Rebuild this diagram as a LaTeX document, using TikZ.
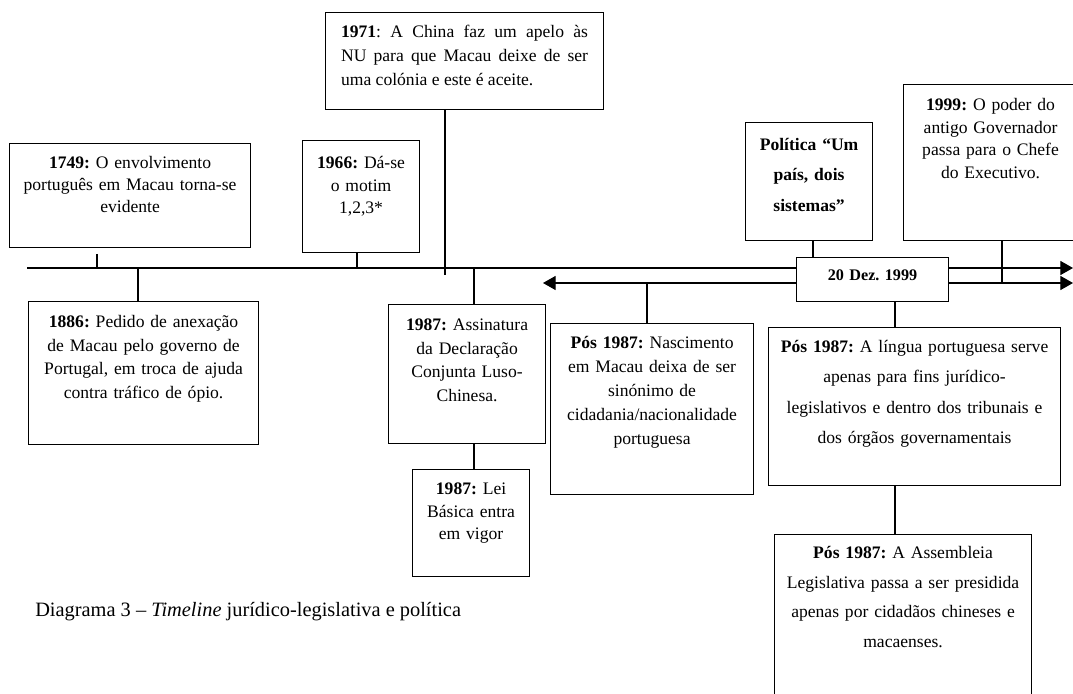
\documentclass[tikz,border=0pt]{standalone}
\usepackage{fontspec}
\setmainfont{Liberation Serif}
\usetikzlibrary{arrows.meta}
\newdimen\px \px=0.025cm
\frenchspacing

\begin{document}
\begin{tikzpicture}[x=0.025cm, y=-0.025cm, line width=0.8pt]
\tikzstyle{event} = [rectangle, draw, fill=white, anchor=north west, align=center, inner xsep=0pt, inner ysep=0pt]
\tikzstyle{tline} = [-{Triangle[length=9pt, width=10pt]}]
\tikzstyle{tline2} = [{Triangle[length=9pt, width=10pt]}-{Triangle[length=9pt, width=10pt]}]
\useasboundingbox (0,0) rectangle (1073,694);
% the two time lines
\coordinate (start) at (27,268);
\coordinate (endtop) at (1073,268);
\coordinate (leftend) at (543,283);
\coordinate (endlow) at (1073,283);
\draw[tline] (start) -- (endtop);
\draw[tline2] (leftend) -- (endlow);
% events
\node[event, text width=241\px, text height=25\px, text depth=79\px, font=\fontsize{12.5}{15.6}\selectfont] (e1749) at (9,143)
  {\textbf{1749:} O envolvimento\\ português em Macau torna-se\\ evidente};
\node[event, text width=230\px, text height=26\px, text depth=117\px, font=\fontsize{12.5}{16.8}\selectfont] (e1886) at (28,301)
  {\textbf{1886:} Pedido de anexação\\ de Macau pelo governo de\\ Portugal, em troca de ajuda\\ contra tráfico de ópio.};
\node[event, text width=117\px, text height=28\px, text depth=84\px, font=\fontsize{12.5}{16}\selectfont] (e1966) at (302,140)
  {\textbf{1966:} Dá-se\\ o motim\\ 1,2,3*};
\node[event, align=justify, inner xsep=15.5\px, text width=247\px, text height=25\px, text depth=72\px, font=\fontsize{12.5}{17}\selectfont] (e1971) at (325,12)
  {\textbf{1971}: A China faz um apelo às\linebreak NU para que Macau deixe de ser\linebreak uma colónia e este é aceite.};
\node[event, text width=157\px, text height=26\px, text depth=113\px, font=\fontsize{12.5}{16.7}\selectfont] (a1987) at (388,304)
  {\textbf{1987:} Assinatura\\ da Declaração\\ Conjunta Luso-\\ Chinesa.};
\node[event, text width=117\px, text height=25\px, text depth=82\px, font=\fontsize{12.5}{16}\selectfont] (l1987) at (412,469)
  {\textbf{1987:} Lei\\ Básica entra\\ em vigor};
\node[event, text width=203\px, text height=25\px, text depth=146\px, font=\fontsize{12.5}{17}\selectfont] (nasc) at (550,323)
  {\textbf{Pós 1987:} Nascimento\\ em Macau deixa de ser\\ sinónimo de\\ cidadania/nacionalidade\\ portuguesa};
\node[event, text width=127\px, text height=28\px, text depth=90\px, font=\fontsize{12.5}{21.6}\selectfont\bfseries] (pol) at (745,122)
  {Política “Um\\ país, dois\\ sistemas”};
\node[event, text width=152\px, text height=23\px, text depth=21\px, font=\fontsize{11.5}{13}\selectfont\bfseries] (dez) at (796,257)
  {20 Dez. 1999};
\node[event, text width=174\px, text height=26\px, text depth=130\px, font=\fontsize{12.5}{16}\selectfont] (e1999) at (903,84)
  {\textbf{1999:} O poder do\\ antigo Governador\\ passa para o Chefe\\ do Executivo.};
\node[event, text width=292\px, text height=25\px, text depth=133\px, font=\fontsize{12.5}{21.5}\selectfont] (ling) at (768,327)
  {\textbf{Pós 1987:} A língua portuguesa serve\\ apenas para fins jurídico-\\ legislativos e dentro dos tribunais e\\ dos órgãos governamentais};
\node[event, text width=257\px, text height=24\px, text depth=156\px, font=\fontsize{12.5}{21}\selectfont] (assem) at (774,534)
  {\textbf{Pós 1987:} A Assembleia\\ Legislativa passa a ser presidida\\ apenas por cidadãos chineses e\\ macaenses.};
% ticks
\coordinate (s1749) at (97,254);
\coordinate (t1749) at (97,268);
\coordinate (t1886) at (138,268);
\coordinate (t1966) at (357,268);
\coordinate (t1971) at (445,275);
\coordinate (t1987) at (474,268);
\coordinate (tnasc) at (647,283);
\coordinate (xpol) at (813,0);
\coordinate (t1999) at (1002,283);
\coordinate (xling) at (895,0);
\draw (s1749) -- (t1749);
\draw (t1886) -- (t1886 |- e1886.north);
\draw (t1966 |- e1966.south) -- (t1966);
\draw (t1971 |- e1971.south) -- (t1971);
\draw (t1987) -- (t1987 |- a1987.north);
\draw (t1987 |- a1987.south) -- (t1987 |- l1987.north);
\draw (tnasc) -- (tnasc |- nasc.north);
\draw (pol.south -| xpol) -- (dez.north -| xpol);
\draw (t1999 |- e1999.south) -- (t1999);
\draw (dez.south -| xling) -- (ling.north -| xling);
\draw (ling.south -| xling) -- (assem.north -| xling);
% caption
\node[anchor=west, font=\fontsize{14.5}{17}\selectfont] (caption) at (30,612)
  {Diagrama 3 – \textit{Timeline} jurídico-legislativa e política};
\end{tikzpicture}
\end{document}
